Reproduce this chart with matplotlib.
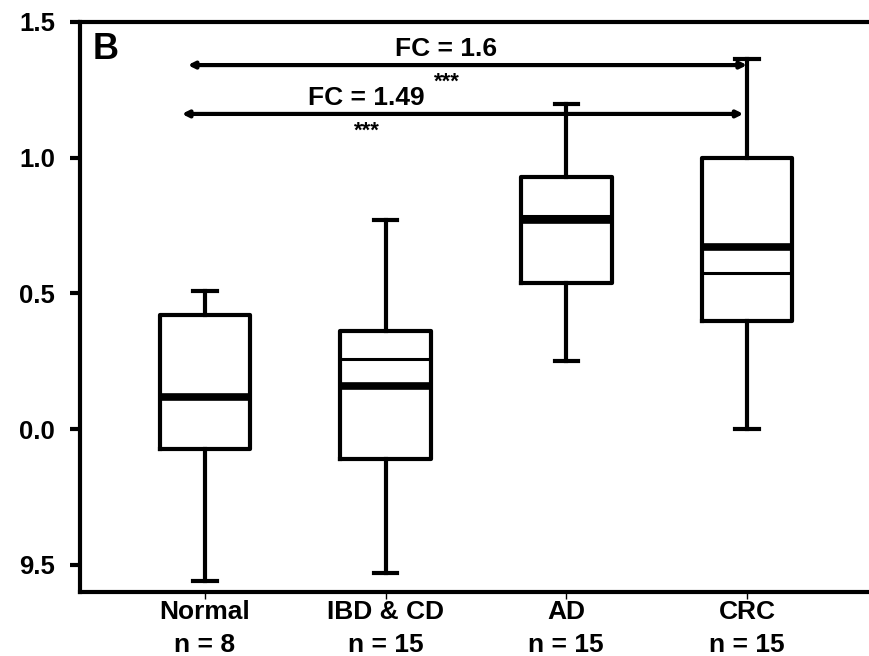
import matplotlib
matplotlib.use("Agg")
from matplotlib import pyplot as plt

plt.rcParams['font.family'] = ['Liberation Sans', 'DejaVu Sans']
plt.rcParams['font.weight'] = 'bold'

groups = ['Normal', 'IBD & CD', 'AD', 'CRC']
counts = [8, 15, 15, 15]
whisker_low = [-0.56, -0.53, 0.25, 0.0]
q1 = [-0.074, -0.11, 0.538, 0.40]
medians = [0.118, 0.158, 0.77, 0.67]
means = [0.118, 0.26, 0.785, 0.575]
q3 = [0.42, 0.36, 0.928, 1.0]
whisker_high = [0.51, 0.77, 1.197, 1.363]

ytick_vals = [-0.5, 0.0, 0.5, 1.0, 1.5]
ytick_labels = ['9.5', '0.0', '0.5', '1.0', '1.5']

# fold-change comparisons: (arrow start, arrow end, y level, label, label x)
comparisons = [(0.906, 4, 1.341, 'FC = 1.6', 2.337),
               (0.873, 3.98, 1.161, 'FC = 1.49', 1.895)]

fig = plt.figure(figsize=(8.7, 6.56), dpi=100)
ax = fig.add_axes([0.092, 0.0976, 0.908, 0.869])

stats = []
for i, g in enumerate(groups):
    stats.append({'label': '{}\nn = {}'.format(g, counts[i]),
                  'whislo': whisker_low[i], 'q1': q1[i], 'med': medians[i],
                  'mean': means[i], 'q3': q3[i], 'whishi': whisker_high[i],
                  'fliers': []})

positions = range(1, len(groups) + 1)
ax.bxp(stats, positions=positions, widths=0.5, capwidths=0.13,
       showmeans=True, meanline=True, showfliers=False,
       boxprops=dict(color='black', linewidth=3),
       whiskerprops=dict(color='black', linewidth=3),
       capprops=dict(color='black', linewidth=3),
       medianprops=dict(color='black', linewidth=5.5, solid_capstyle='butt'),
       meanprops=dict(color='black', linewidth=2.2, linestyle='-'))

for x0, x1, y, label, tx in comparisons:
    ax.annotate('', xy=(x0, y), xytext=(x1, y),
                arrowprops=dict(arrowstyle='<|-|>', color='black', lw=3,
                                mutation_scale=9, shrinkA=0, shrinkB=0))
    ax.text(tx, y + 0.015, label, ha='center', va='bottom', fontsize=19,
            fontweight='bold')
    ax.text(tx, y - 0.025, '***', ha='center', va='top', fontsize=16,
            fontweight='bold')

ax.text(0.38, 1.40, 'B', ha='left', va='center', fontsize=26, fontweight='bold')

ax.set_xlim(0.31, 4.68)
ax.set_ylim(-0.6, 1.5)
ax.set_yticks(ytick_vals)
ax.set_yticklabels(ytick_labels, fontsize=18.5, fontweight='bold')
ax.tick_params(axis='y', length=7, width=3, direction='out', pad=11)
ax.tick_params(axis='x', length=5, width=1, direction='out', labelsize=19,
               pad=1)
for lbl in ax.get_xticklabels():
    lbl.set_linespacing(1.45)
    lbl.set_fontweight('bold')

for side in ['left', 'bottom', 'top']:
    ax.spines[side].set_linewidth(3)
ax.spines['right'].set_visible(False)

plt.savefig('out.png', dpi=100)
